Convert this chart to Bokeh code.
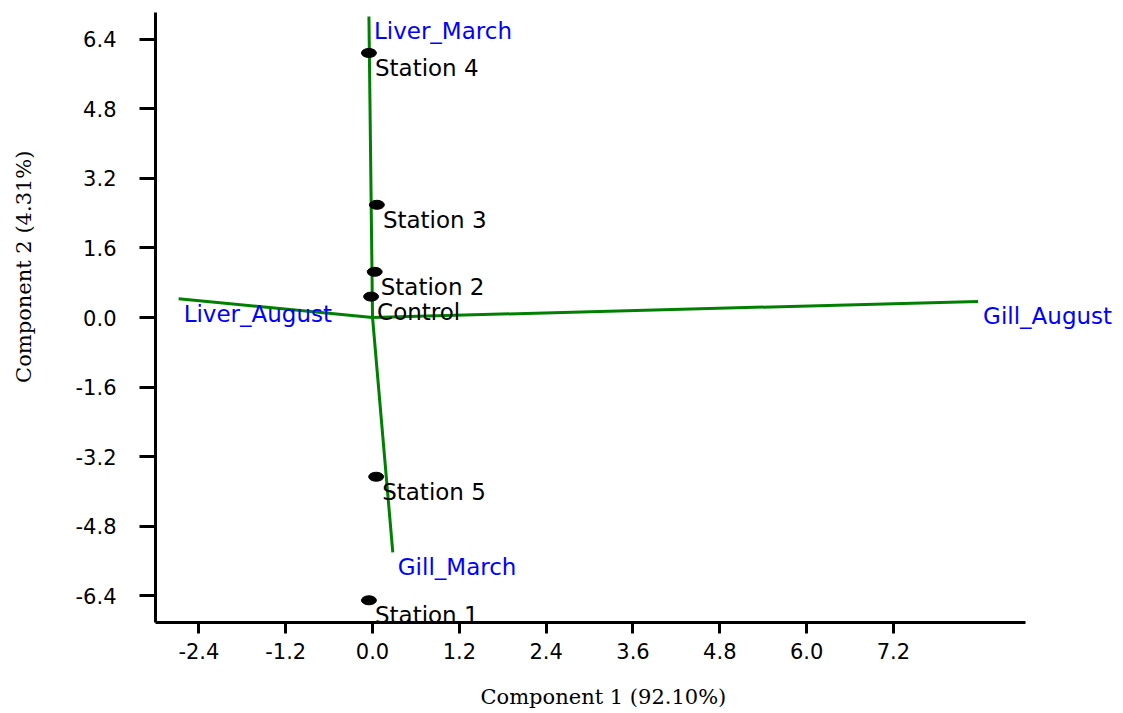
from bokeh.plotting import figure
from bokeh.models import (Range1d, FixedTicker, NumeralTickFormatter, ColumnDataSource,
                          LabelSet, LinearAxis, Title)
from bokeh.core.properties import value
from bokeh.embed import file_html
from bokeh.resources import INLINE

# PCA biplot: station scores and variable loadings
stations = ["Station 4", "Station  3", "Station 2", "Control", "Station 5", "Station 1"]
score_x = [-0.05, 0.06, 0.03, -0.02, 0.05, -0.05]
score_y = [6.08, 2.59, 1.05, 0.48, -3.66, -6.50]

variables = ["Liver_March", "Liver_August", "Gill_August", "Gill_March"]
load_x = [-0.05, -2.68, 8.37, 0.28]
load_y = [6.92, 0.43, 0.37, -5.40]

x_ticks = [-2.4, -1.2, 0.0, 1.2, 2.4, 3.6, 4.8, 6.0, 7.2]
y_ticks = [-6.4, -4.8, -3.2, -1.6, 0.0, 1.6, 3.2, 4.8, 6.4]

x_title = "Component 1 (92.10%)"
y_title = "Component 2 (4.31%)"

X_AXIS_END = 9.02

# frame runs to the right edge so the outer labels stay visible; the axis line stops at X_AXIS_END
p = figure(width=1123, height=713, output_backend="svg", toolbar_location=None,
           x_range=Range1d(-3.0, 10.38), y_range=Range1d(-7.01, 7.01),
           min_border_left=155, min_border_right=0, min_border_top=12, min_border_bottom=91)
p.outline_line_color = None
p.xgrid.visible = False
p.ygrid.visible = False

for ax, ticks in ((p.xaxis, x_ticks), (p.yaxis, y_ticks)):
    ax.ticker = FixedTicker(ticks=ticks)
    ax.formatter = NumeralTickFormatter(format="0.0")
    ax.axis_line_width = 3
    ax.axis_line_color = "black"
    ax.major_tick_line_width = 3
    ax.major_tick_line_color = "black"
    ax.major_tick_in = 0
    ax.minor_tick_line_color = None
    ax.major_label_text_font = "DejaVu Sans"
    ax.major_label_text_font_size = "21px"
    ax.major_label_text_color = "black"

p.xaxis.major_tick_out = 11
p.xaxis.major_label_standoff = 9
p.yaxis.major_tick_out = 16
p.yaxis.major_label_standoff = 23
p.xaxis.bounds = (-3.0, X_AXIS_END)


def gap(size):
    """Side panel with one unpainted tick; it only reserves space between an axis and its title."""
    return LinearAxis(ticker=FixedTicker(ticks=[0]), axis_line_color=None,
                      major_tick_line_alpha=0, minor_tick_line_color=None,
                      major_tick_in=0, major_tick_out=size, minor_tick_out=0,
                      major_label_standoff=0, major_label_overrides={0: ""},
                      major_label_text_font_size="0px")


title_style = dict(text_font="DejaVu Serif", text_font_size="21px",
                   text_font_style="normal", text_color="black", standoff=0)

p.add_layout(gap(23), "below")
p.add_layout(Title(text=x_title, align="left", offset=325, vertical_align="top",
                   **title_style), "below")
p.add_layout(gap(37), "left")
p.add_layout(Title(text=y_title, align="right", offset=138, vertical_align="bottom",
                   **title_style), "left")

# loading vectors from the origin
vec = ColumnDataSource(dict(x0=[0] * len(variables), y0=[0] * len(variables),
                            x1=load_x, y1=load_y, name=variables))
p.segment(x0="x0", y0="y0", x1="x1", y1="y1", source=vec,
          line_color="#008000", line_width=3)
p.add_layout(LabelSet(x="x1", y="y1", text="name", source=vec, x_offset=5, y_offset=-15,
                      text_color="#0000FF", text_font=value("DejaVu Sans"),
                      text_font_size=value("23px"), text_align="left", text_baseline="middle"))

# station scores
sc = ColumnDataSource(dict(x=score_x, y=score_y, name=stations))
p.ellipse(x="x", y="y", width=15, height=9, width_units="screen", height_units="screen",
          source=sc, fill_color="black", line_color="black")
p.add_layout(LabelSet(x="x", y="y", text="name", source=sc, x_offset=6, y_offset=-15,
                      text_color="black", text_font=value("DejaVu Sans"),
                      text_font_size=value("23px"), text_align="left", text_baseline="middle"))

open("out.html", "w").write(file_html(p, INLINE))
